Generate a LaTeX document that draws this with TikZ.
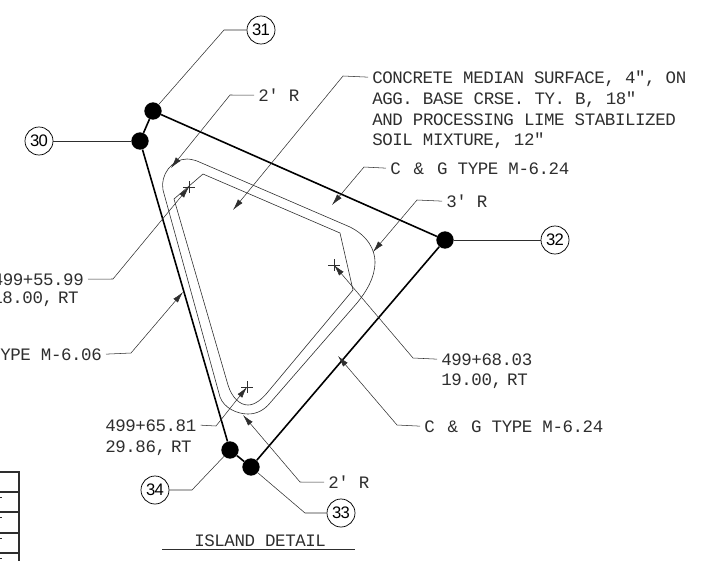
\documentclass[tikz,border=0pt]{standalone}
\usepackage{fontspec}
\setmainfont[LetterSpace=-2.4]{Liberation Mono}
\newfontfamily\tagfont[LetterSpace=-5]{Liberation Sans}
\usetikzlibrary{arrows.meta,calc}
\definecolor{ink}{gray}{0.18}
\tikzset{
  x=0.75pt,y=-0.75pt,
  heavy/.style={line width=1.2pt,black},
  thinline/.style={line width=0.45pt,ink},
  leader/.style={line width=0.4pt,ink},
  arrowed/.style={leader,-{Latex[length=8.5pt,width=4.4pt]}},
  dot/.style={circle,fill=black,inner sep=0pt,minimum size=13pt},
  tag/.style={circle,draw=black,line width=0.55pt,inner sep=0pt,minimum size=21pt,font=\tagfont\fontsize{12.5}{14}\selectfont,text=black},
  lab/.style={inner ysep=0pt,inner xsep=3pt,text height=8.8pt,text depth=0pt,font=\fontsize{13.1}{15}\selectfont,text=ink},
  labl/.style={lab,anchor=base west},
  labr/.style={lab,anchor=base east},
  crossmark/.style={line width=0.45pt,ink}
}
\newcommand{\crossat}[1]{\draw[crossmark] ($(#1)+(-6,0)$) -- ($(#1)+(6,0)$) ($(#1)+(0,-6)$) -- ($(#1)+(0,6)$);}
\newcommand{\cng}{C\ \,\&\ \,G}
\newcommand{\tcomma}{,\kern-3.7pt}
\begin{document}
\begin{tikzpicture}
\useasboundingbox (0,0) rectangle (717,561);
% curb lines
\draw[thinline] (197,161) -- (350,227) .. controls (368,236) and (375,250) .. (375,262)
  .. controls (375,278) and (366,292) .. (357,303) -- (270,403)
  .. controls (265,409) and (258,414) .. (248,414)
  .. controls (237,414) and (224,408) .. (220,397) -- (163,190)
  .. controls (160,175) and (172,159) .. (187,159) .. controls (190,159) and (194,160) .. (197,161) -- cycle;
\draw[thinline] (174,199) -- (228,385) .. controls (232,398) and (240,405) .. (248,405)
  .. controls (255,405) and (262,399) .. (267,393) -- (353,290) -- (340,233) -- (203,174) -- cycle;
% corner dots
\node[dot] (d31) at (153,111) {};
\node[dot] (d30) at (140,141) {};
\node[dot] (d32) at (445,240) {};
\node[dot] (d33) at (251,467) {};
\node[dot] (d34) at (230,450) {};
\draw[heavy] (d31) -- (d32) (d32) -- (d33) (d33) -- (d34) (d34) -- (d30) (d30) -- (d31);
% numbered tags
\node[tag] (t31) at (261,30) {31};
\node[tag] (t30) at (39,141) {30};
\node[tag] (t32) at (555,240) {32};
\node[tag] (t33) at (341,513) {33};
\node[tag] (t34) at (155,490) {34};
\draw[leader] (t31) -- (224,30) -- (d31);
\draw[leader] (t30) -- (d30);
\draw[leader] (t32) -- (d32);
\draw[leader] (t33) -- (305,513) -- (d33);
\draw[leader] (t34) -- (192,490) -- (d34);
% crosses
\coordinate (x1) at (189,187);
\coordinate (x2) at (334,265);
\coordinate (x3) at (247,387);
\crossat{x1}\crossat{x2}\crossat{x3}
% arrow tips
\coordinate (a1) at (171,168);
\coordinate (a2) at (233,210);
\coordinate (a3) at (332,205);
\coordinate (a4) at (373,252);
\coordinate (a5) at (338,356);
\coordinate (a6) at (243,415);
\coordinate (a7) at (183,292);
% notes
\node[labl] (n1) at (368,83) {CONCRETE MEDIAN SURFACE, 4″, ON};
\node[labl] (n1b) at (368,104) {AGG. BASE CRSE. TY. B, 18″};
\node[labl] (n1c) at (368,125) {AND PROCESSING LIME STABILIZED};
\node[labl] (n1d) at (368,145) {SOIL MIXTURE, 12″};
\node[labl] (n2) at (386,174) {\cng{} TYPE M-6.24};
\node[labl] (n3) at (442,207) {3′ R};
\node[labl] (n4) at (254,101) {2′ R};
\node[labl] (n5) at (437,365) {499+68.03};
\node[labl] (n5b) at (437,385) {19.00\tcomma{} RT};
\node[labl] (n6) at (420,432) {\cng{} TYPE M-6.24};
\node[labl] (n7) at (324,488) {2′ R};
\node[labl] (n8) at (101,431) {499+65.81};
\node[labl] (n8b) at (101,452) {29.86\tcomma{} RT};
\node[labr] (n9) at (88,285) {499+55.99};
\node[labr] (n9b) at (83,303) {18.00\tcomma{} RT};
\node[labr] (n10) at (106,360) {TYPE M-6.06};
\node[labl] (title) at (190,546) {ISLAND DETAIL};
\coordinate (u1) at (162,549);
\coordinate (u2) at (355,549);
\draw[line width=0.6pt,ink] (u1) -- (u2);
% leaders
\draw[arrowed] (n1.west) -- (343,76) -- (a2);
\draw[arrowed] (n2.west) -- (364,167) -- (a3);
\draw[arrowed] (n3.west) -- (417,200) -- (a4);
\draw[arrowed] (n4.west) -- (230,95) -- (a1);
\draw[arrowed] (n5.west) -- (413,358) -- (x2);
\draw[arrowed] (n6.west) -- (397,425) -- (a5);
\draw[arrowed] (n7.west) -- (300,482) -- (a6);
\draw[arrowed] (n8.east) -- (216,426) -- (x3);
\draw[arrowed] (n9.east) -- (113,279) -- (x1);
\draw[arrowed] (n10.east) -- (131,353) -- (a7);
% table fragment at lower left
\coordinate (tb1) at (19,472);
\coordinate (tb2) at (19,561);
\draw[line width=0.8pt,ink] (0,472) -- (tb1) -- (tb2);
\foreach \yy in {492,512,533,553}{\draw[line width=0.8pt,ink] (0,\yy) -- (19,\yy);}
\foreach \yy in {497,517,538,558}{\draw[line width=0.6pt,ink] (0,\yy) -- (2,\yy);}
\end{tikzpicture}
\end{document}
